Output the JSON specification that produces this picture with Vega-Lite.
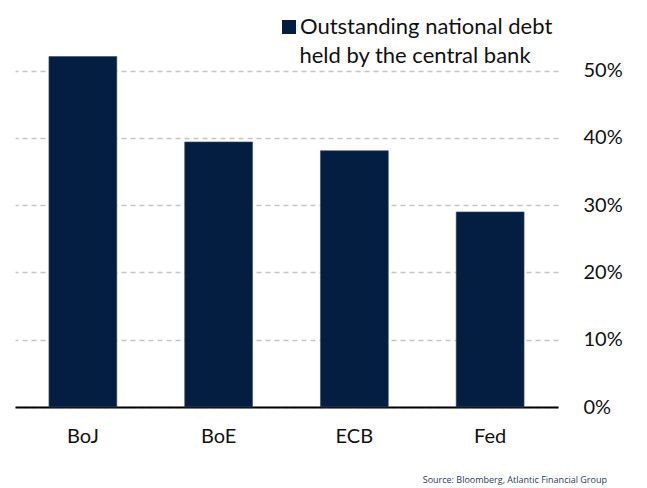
{
  "$schema": "https://vega.github.io/schema/vega-lite/v6.json",
  "width": 543,
  "height": 370,
  "autosize": "none",
  "padding": {"left": 15, "top": 37, "right": 89, "bottom": 81},
  "background": "white",
  "config": {
    "view": {"stroke": null},
    "font": "Lato"
  },
  "title": {
    "text": "Source: Bloomberg, Atlantic Financial Group",
    "orient": "bottom",
    "anchor": "end",
    "frame": "group",
    "dx": 49,
    "offset": 30,
    "fontSize": 9,
    "fontWeight": "normal",
    "color": "#2b3a5a",
    "font": "Open Sans"
  },
  "data": {
    "values": [
      {"bank": "BoJ", "share": 0.521, "series": "Outstanding national debt"},
      {"bank": "BoE", "share": 0.394, "series": "Outstanding national debt"},
      {"bank": "ECB", "share": 0.381, "series": "Outstanding national debt"},
      {"bank": "Fed", "share": 0.290, "series": "Outstanding national debt"}
    ]
  },
  "mark": {"type": "bar", "stroke": "#3d4d6b", "strokeWidth": 0.6},
  "encoding": {
    "x": {
      "field": "bank",
      "type": "nominal",
      "sort": null,
      "scale": {"paddingInner": 0.5, "paddingOuter": 0.25},
      "axis": {
        "title": null,
        "labelAngle": 0,
        "labelFontSize": 20,
        "labelColor": "#111111",
        "labelPadding": 19,
        "ticks": false,
        "domainColor": "#000000",
        "domainWidth": 2,
        "grid": false
      }
    },
    "y": {
      "field": "share",
      "type": "quantitative",
      "scale": {"domain": [0, 0.55], "nice": false},
      "axis": {
        "orient": "right",
        "title": null,
        "values": [0, 0.1, 0.2, 0.3, 0.4, 0.5],
        "format": ".0%",
        "labelFontSize": 20,
        "labelColor": "#111111",
        "labelPadding": 25,
        "ticks": false,
        "domain": false,
        "grid": true,
        "gridColor": "#c4c4c4",
        "gridDash": [5, 4],
        "gridWidth": 1.3
      }
    },
    "color": {
      "field": "series",
      "type": "nominal",
      "scale": {"range": ["#041e42"]},
      "legend": {
        "orient": "none",
        "legendX": 263,
        "legendY": -21,
        "title": "held by the central bank",
        "titleOrient": "bottom",
        "titleAnchor": "middle",
        "titleFontSize": 22,
        "titleFontWeight": "normal",
        "titleColor": "#111111",
        "titlePadding": 8,
        "titleLimit": 0,
        "labelLimit": 0,
        "labelFontSize": 22,
        "labelColor": "#111111",
        "labelOffset": 0,
        "symbolType": "square",
        "symbolSize": 196,
        "symbolStrokeWidth": 0,
        "padding": 0
      }
    }
  }
}
